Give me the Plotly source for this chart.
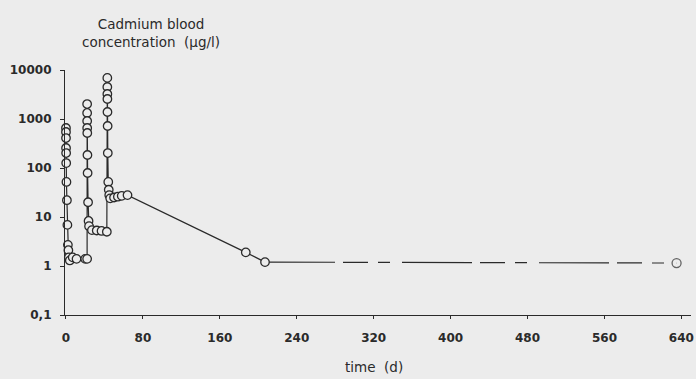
import plotly.graph_objects as go

# ---- data ----
dose1_days = [0.01, 0.02, 0.04, 0.08, 0.17, 0.25, 0.5, 1, 1.5, 2, 2.5, 3]
dose1_conc = [655, 543, 409, 256, 202, 126, 52, 22, 6.9, 2.7, 2.1, 1.5]
plateau1_days = [4, 7, 11, 20, 22]
plateau1_conc = [1.3, 1.5, 1.4, 1.4, 1.4]
dose2_days = [22.01, 22.02, 22.04, 22.08, 22.17, 22.33, 22.5, 23, 23.5, 24]
dose2_conc = [2020, 1330, 910, 655, 518, 184, 79, 20, 8.3, 6.5]
plateau2_days = [27, 32, 37, 42.5]
plateau2_conc = [5.4, 5.3, 5.2, 5.0]
dose3_days = [43.01, 43.02, 43.04, 43.08, 43.17, 43.33, 43.5, 44, 44.5, 45]
dose3_conc = [6900, 4500, 3240, 2560, 1390, 720, 202, 52, 36, 28]
plateau3_days = [46, 50, 54, 58, 64]
plateau3_conc = [24, 25, 26, 27, 28]
elim_days = [187, 207]
elim_conc = [1.9, 1.2]
final_days = [635]
final_conc = [1.15]

x_ticks = [0, 80, 160, 240, 320, 400, 480, 560, 640]
y_ticks = [0.1, 1, 10, 100, 1000, 10000]
y_ticktext = ["0,1", "1", "10", "100", "1000", "10000"]

days = (dose1_days + plateau1_days + dose2_days + plateau2_days
        + dose3_days + plateau3_days + elim_days)
conc = (dose1_conc + plateau1_conc + dose2_conc + plateau2_conc
        + dose3_conc + plateau3_conc + elim_conc)

BG = "#ececec"
INK = "#2a2a2a"
FONT = "DejaVu Sans"

fig = go.Figure()
# long low-level tail (broken line in the scan)
fig.add_trace(go.Scatter(
    x=[elim_days[-1]] + final_days, y=[elim_conc[-1]] + final_conc,
    mode="lines+markers",
    line=dict(color=INK, width=1.2, dash="70px,8px,25px,10px,12px,12px"),
    marker=dict(symbol="circle", size=[0, 9], color=BG,
                line=dict(color=INK, width=1.3)),
    cliponaxis=False, showlegend=False, hoverinfo="skip"))
fig.add_trace(go.Scatter(
    x=days, y=conc, mode="lines+markers",
    line=dict(color=INK, width=1.2),
    marker=dict(symbol="circle", size=8.5, color=BG,
                line=dict(color=INK, width=1.3)),
    cliponaxis=False, showlegend=False))

fig.update_layout(
    width=696, height=379,
    margin=dict(l=65, r=2, t=70, b=64),
    paper_bgcolor=BG, plot_bgcolor=BG,
    font=dict(family=FONT, color=INK, size=12),
    xaxis=dict(range=[-1, 650], tickvals=x_ticks, showgrid=False,
               zeroline=False, showline=True, linecolor=INK, linewidth=1,
               ticks="outside", ticklen=3, tickcolor=INK,
               ticklabelstandoff=9, ticklabeloverflow="allow",
               tickfont=dict(family=FONT, size=12, weight="bold", color=INK)),
    yaxis=dict(type="log", range=[-1, 4], tickvals=y_ticks,
               ticktext=y_ticktext, showgrid=False, zeroline=False,
               showline=True, linecolor=INK, linewidth=1.2,
               ticks="outside", ticklen=4, tickcolor=INK,
               ticklabelstandoff=6, ticklabeloverflow="allow",
               tickfont=dict(family=FONT, size=12, weight="bold", color=INK)),
    annotations=[
        dict(text="Cadmium blood<br>concentration  (µg/l)", xref="paper",
             yref="paper", x=0.138, y=1.153, xanchor="center",
             yanchor="middle", showarrow=False,
             font=dict(family=FONT, size=13.5, color=INK)),
        dict(text="time  (d)", xref="paper", yref="paper", x=0.494,
             y=-0.212, xanchor="center", yanchor="middle", showarrow=False,
             font=dict(family=FONT, size=13.5, color=INK)),
    ],
)

fig.write_html("out.html")
